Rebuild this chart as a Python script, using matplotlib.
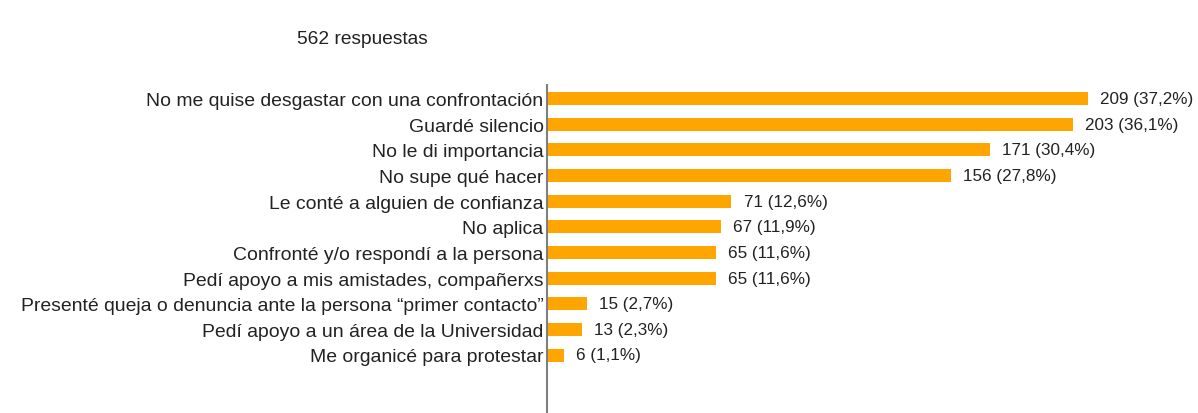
import matplotlib
matplotlib.use("Agg")
import matplotlib.pyplot as plt

categories = [
    "No me quise desgastar con una confrontación",
    "Guardé silencio",
    "No le di importancia",
    "No supe qué hacer",
    "Le conté a alguien de confianza",
    "No aplica",
    "Confronté y/o respondí a la persona",
    "Pedí apoyo a mis amistades, compañerxs",
    "Presenté queja o denuncia ante la persona “primer contacto”",
    "Pedí apoyo a un área de la Universidad",
    "Me organicé para protestar",
]
counts = [209, 203, 171, 156, 71, 67, 65, 65, 15, 13, 6]
pct_labels = ["37,2%", "36,1%", "30,4%", "27,8%", "12,6%", "11,9%", "11,6%", "11,6%", "2,7%", "2,3%", "1,1%"]
title = "562 respuestas"

plt.rcParams['font.family'] = ['Liberation Sans', 'DejaVu Sans']

W, H = 1198, 414
fig = plt.figure(figsize=(W / 100, H / 100), dpi=100)
ax_left, ax_top, ax_bottom = 547, 86, 414
ax = fig.add_axes([ax_left / W, 0, (W - ax_left) / W, (ax_bottom - ax_top) / H])

pxu = 2.584
ax.set_xlim(0, (W - ax_left) / pxu)
spacing = 25.65
first = 99.5
ax.set_ylim((ax_bottom - first) / spacing, -(first - ax_top) / spacing)

ypos = list(range(len(categories)))
ax.barh(ypos, counts, height=13 / spacing, color="#FFA500", left=0.4)

for y, c, p in zip(ypos, counts, pct_labels):
    ax.annotate(f"{c} ({p})", xy=(c, y), xytext=(9.5, 0), textcoords="offset points",
                ha="left", va="center", fontsize=12.3, color="#222222")

ax.set_yticks(ypos)
ax.set_yticklabels(categories, fontsize=13.95, color="#222222")
ax.tick_params(axis="y", length=0, pad=2.5)
ax.set_xticks([])
for s in ["top", "right", "bottom"]:
    ax.spines[s].set_visible(False)
ax.spines["left"].set_color("#7f7f7f")
ax.spines["left"].set_linewidth(1.5)

fig.text(297 / W, 1 - 40 / H, title, ha="left", va="center", fontsize=13.8, color="#222222")

fig.savefig("out.png", dpi=100, facecolor="white")
